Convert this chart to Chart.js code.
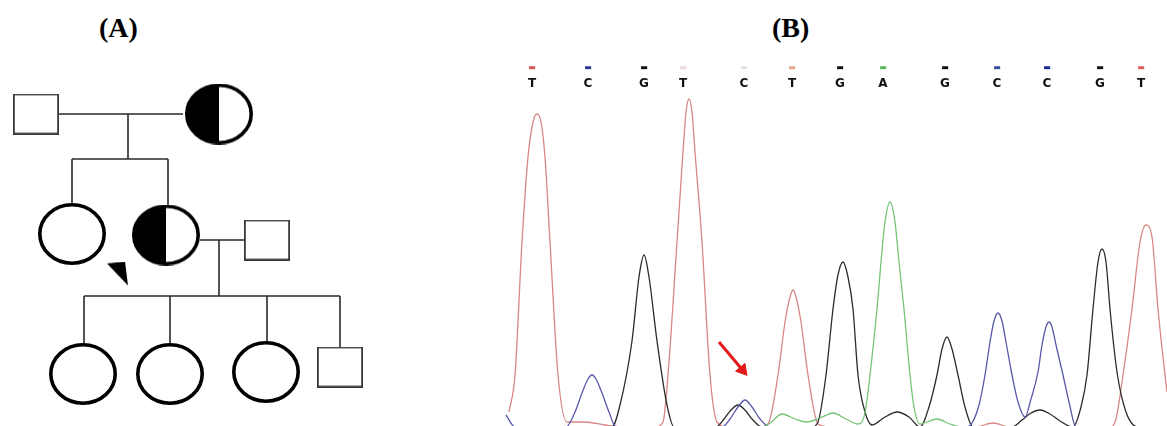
<!DOCTYPE html>
<html>
<head>
<meta charset="utf-8">
<script src="https://cdn.jsdelivr.net/npm/chart.js@4.4.1/dist/chart.umd.min.js"></script>
<style>
  html, body { margin: 0; padding: 0; background: #fff; }
  #wrap { position: relative; width: 1167px; height: 426px; overflow: hidden; background: #fff; }
  .panel { position: absolute; top: 13px; font: bold 28px "Liberation Serif", "Times New Roman", serif; line-height: 30px; color: #000; }
</style>
</head>
<body>
<div id="wrap">
  <div class="panel" style="left:99px">(A)</div>
  <div class="panel" style="left:772px">(B)</div>
  <canvas id="pedigree" width="400" height="426" style="position:absolute;left:0;top:0"></canvas>
  <canvas id="trace" width="662" height="426" style="position:absolute;left:505px;top:0"></canvas>
</div>
<script>
// pedigree (A): individuals and connecting lines
const males = [{x: 36, y: 114}, {x: 267, y: 240}, {x: 340, y: 367}];
const females = [{x: 72, y: 234}, {x: 83, y: 374}, {x: 170, y: 374}, {x: 266, y: 372}];
const carriers = [{x: 219, y: 114}, {x: 166, y: 235}];
const proband = [{x: 118, y: 274}];
const links = [
  [59, 114, 183, 114], [128, 114, 128, 159], [72, 159, 168, 159],
  [72, 159, 72, 204], [168, 159, 168, 205],
  [200, 240, 245, 240], [219, 240, 219, 296], [84, 296, 340, 296],
  [84, 296, 84, 343], [170, 296, 170, 343], [267, 296, 267, 341], [340, 296, 340, 347]
];

// chromatogram (B): base calls and the four traces [scan, signal]
const baseCalls = ['T', 'C', 'G', 'T', 'C', 'T', 'G', 'A', 'G', 'C', 'C', 'G', 'T'];
const basePositions = [532, 588, 644, 683, 744, 792, 840, 883, 945, 997, 1047, 1100, 1141];
const traceT = [
  [509, 15], [515, 52], [522, 185], [528, 270], [533, 305], [537, 313], [541, 305], [545, 270], [550, 185], [558, 52], [567, 5],
  [585, 5], [605, 2], [625, 0], [655, 0],
  [663, 5], [668, 52], [677, 185], [683, 275], [686, 315], [689, 328], [692, 315], [695, 275], [702, 185], [710, 52], [717, 5],
  [728, 0], [760, 0],
  [768, 3], [778, 52], [785, 105], [790, 130], [793, 137], [796, 130], [801, 105], [808, 52], [818, 3],
  [830, 0], [975, 0], [993, 4], [1010, 0], [1110, 0],
  [1116, 8], [1123, 52], [1132, 118], [1140, 185], [1146, 202], [1152, 190], [1158, 118], [1165, 52], [1167, 35]
];
const traceC = [
  [506, 12], [515, 0], [566, 0],
  [575, 15], [582, 34], [588, 48], [592, 52], [596, 48], [602, 34], [609, 15], [616, 0],
  [722, 0], [730, 8], [738, 20], [745, 27], [752, 20], [760, 8], [770, 0],
  [966, 0], [972, 4], [979, 22], [985, 52], [990, 85], [994, 106], [998, 114], [1002, 106], [1006, 85], [1012, 52], [1018, 25], [1025, 10],
  [1031, 28], [1038, 55], [1042, 82], [1046, 100], [1049, 105], [1052, 100], [1056, 82], [1063, 52], [1069, 25], [1076, 0], [1167, 0]
];
const traceG = [
  [505, 0], [612, 0],
  [620, 22], [632, 86], [639, 150], [644, 172], [649, 150], [657, 86], [667, 22], [674, 0],
  [716, 0], [724, 8], [731, 17], [738, 22], [745, 17], [752, 8], [762, 0],
  [812, 0], [818, 5], [826, 52], [833, 118], [838, 152], [843, 165], [848, 150], [853, 118], [858, 52], [865, 15], [872, 2],
  [885, 10], [897, 15], [909, 10], [920, 0],
  [929, 20], [937, 52], [942, 78], [947, 90], [952, 78], [958, 52], [965, 20], [973, 0],
  [1012, 0], [1022, 7], [1031, 14], [1040, 17], [1050, 13], [1060, 6], [1073, 0],
  [1081, 20], [1087, 52], [1093, 118], [1098, 165], [1102, 178], [1106, 165], [1110, 118], [1117, 55], [1126, 15], [1138, 0], [1167, 0]
];
const traceA = [
  [505, 0], [762, 0], [770, 4], [782, 13], [795, 8], [807, 5], [820, 9], [833, 14], [846, 8], [858, 3],
  [862, 5], [866, 20], [870, 52], [877, 118], [881, 165], [885, 205], [890, 225], [895, 205], [899, 165], [904, 118], [910, 52], [914, 20], [920, 3],
  [937, 8], [950, 3], [962, 0], [1167, 0]
];
const arrowLine = [[719, 85], [742.5, 57]];

const traceColors = {T: '#d98686', C: '#5858aa', G: '#2b2b2b', A: '#74c474'};
const dashColors = ['#d9534f', '#2b3a8f', '#111111', '#eddada', '#e2e2e2', '#e6a88c', '#111111',
  '#5cb85c', '#111111', '#3a4fa0', '#1a2a9a', '#111111', '#e06060'];

// point style images for the pedigree symbols
function makeSymbol(kind, w, h) {
  const c = document.createElement('canvas');
  c.width = w; c.height = h;
  const g = c.getContext('2d');
  if (kind === 'square') {
    g.fillStyle = '#fff';
    g.fillRect(0, 0, w, h);
    g.strokeStyle = '#3a3a3a';
    g.lineWidth = 1.8;
    g.strokeRect(0.9, 0.9, w - 1.8, h - 1.8);
  } else if (kind === 'triangle') {
    g.beginPath();
    g.moveTo(0, 2); g.lineTo(18, 0); g.lineTo(21, 24);
    g.closePath();
    g.fillStyle = '#000';
    g.fill();
  } else {
    const lw = 3.6;
    const rx = w / 2 - lw / 2, ry = h / 2 - lw / 2;
    g.beginPath();
    g.ellipse(w / 2, h / 2, rx, ry, 0, 0, Math.PI * 2);
    g.fillStyle = '#fff';
    g.fill();
    if (kind === 'carrier') {
      g.beginPath();
      g.ellipse(w / 2, h / 2, rx, ry, 0, Math.PI / 2, Math.PI * 1.5);
      g.closePath();
      g.fillStyle = '#000';
      g.fill();
    }
    g.beginPath();
    g.ellipse(w / 2, h / 2, rx, ry, 0, 0, Math.PI * 2);
    g.lineWidth = lw;
    g.strokeStyle = '#000';
    g.stroke();
  }
  return c;
}

function symbolSet(points, style) {
  return {data: points, showLine: false, pointStyle: style, pointRadius: 20, order: 0};
}

const pedigreeSets = [
  symbolSet(males, makeSymbol('square', 46, 41)),
  symbolSet(females, makeSymbol('female', 68, 62)),
  symbolSet(carriers, makeSymbol('carrier', 68, 61)),
  symbolSet(proband, makeSymbol('triangle', 22, 25))
];
links.forEach(l => {
  pedigreeSets.push({
    data: [{x: l[0], y: l[1]}, {x: l[2], y: l[3]}],
    borderColor: '#2a2a2a', borderWidth: 1.6, pointRadius: 0, order: 1
  });
});

new Chart(document.getElementById('pedigree'), {
  type: 'line',
  data: {datasets: pedigreeSets},
  options: {
    responsive: false,
    animation: false,
    layout: {padding: 0, autoPadding: false},
    plugins: {legend: {display: false}, tooltip: {enabled: false}},
    scales: {
      x: {type: 'linear', min: 0, max: 400, display: false},
      y: {min: 0, max: 426, reverse: true, display: false}
    }
  }
});

function traceSet(points, color) {
  return {
    data: points.map(p => ({x: p[0], y: p[1]})),
    borderColor: color, borderWidth: 1.3, pointRadius: 0,
    cubicInterpolationMode: 'monotone', fill: false
  };
}

// top axes: quality dashes (outer) and base letters (inner)
function baseAxis(weight, padding, size, labels, color) {
  return {
    type: 'linear', position: 'top', weight: weight, min: 505, max: 1167,
    grid: {display: false, drawTicks: false}, border: {display: false},
    afterBuildTicks: axis => { axis.ticks = basePositions.map(v => ({value: v})); },
    ticks: {
      autoSkip: false, maxRotation: 0, padding: padding, color: color,
      font: {family: '"DejaVu Sans", sans-serif', size: size, weight: 'bold'},
      callback: (v, i) => labels[i]
    }
  };
}

new Chart(document.getElementById('trace'), {
  type: 'line',
  data: {
    datasets: [
      {
        data: arrowLine.map(p => ({x: p[0], y: p[1]})),
        borderColor: '#e31a1a', borderWidth: 3,
        pointRadius: [0, 7], pointStyle: 'triangle', pointRotation: 140,
        pointBackgroundColor: '#e31a1a', pointBorderColor: '#e31a1a', pointBorderWidth: 1
      },
      traceSet(traceA, traceColors.A),
      traceSet(traceC, traceColors.C),
      traceSet(traceG, traceColors.G),
      traceSet(traceT, traceColors.T)
    ]
  },
  options: {
    responsive: false,
    animation: false,
    layout: {padding: {top: 60, bottom: 0, left: 0, right: 0}, autoPadding: false},
    plugins: {legend: {display: false}, tooltip: {enabled: false}},
    scales: {
      x: {type: 'linear', min: 505, max: 1167, display: false},
      xLetters: baseAxis(0, 1, 12, baseCalls, '#111'),
      xDashes: baseAxis(1, 3.2, 8, baseCalls.map(() => '\u25AC'), ctx => dashColors[ctx.index]),
      y: {min: 1, max: 334.6, display: false}
    }
  }
});
</script>
</body>
</html>
